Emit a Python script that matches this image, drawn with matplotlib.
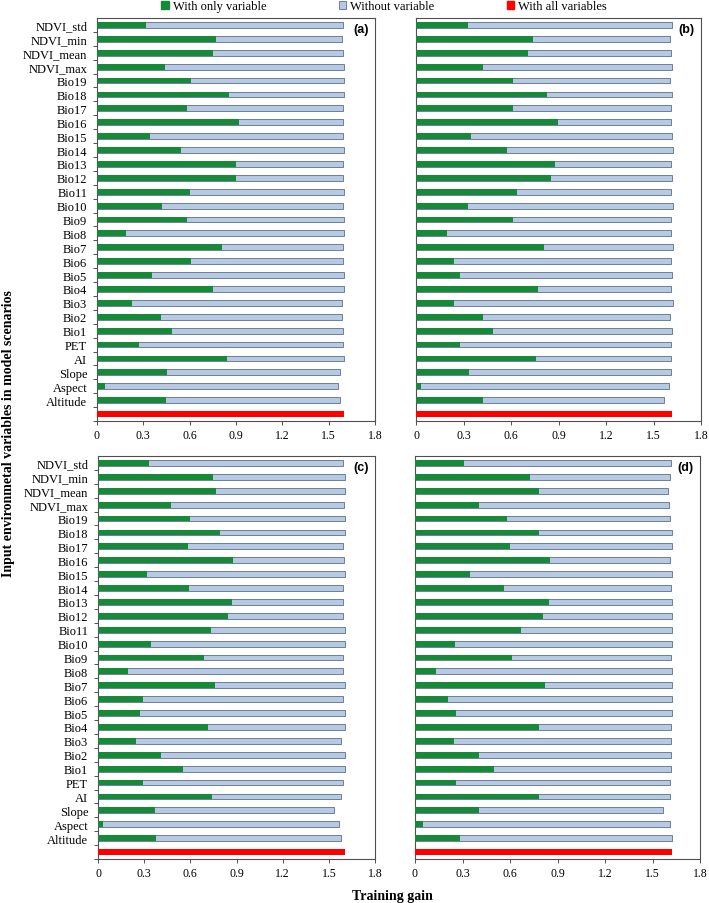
import numpy as np
import matplotlib
matplotlib.use("Agg")
import matplotlib.pyplot as plt
from matplotlib.patches import Patch

# variable names, top to bottom
variables = ["NDVI_std", "NDVI_min", "NDVI_mean", "NDVI_max", "Bio19", "Bio18", "Bio17",
             "Bio16", "Bio15", "Bio14", "Bio13", "Bio12", "Bio11", "Bio10", "Bio9", "Bio8",
             "Bio7", "Bio6", "Bio5", "Bio4", "Bio3", "Bio2", "Bio1", "PET", "AI", "Slope",
             "Aspect", "Altitude"]

# training gain with only the variable (green)
only_a = [0.32, 0.77, 0.75, 0.44, 0.61, 0.855, 0.58, 0.92, 0.34, 0.545, 0.90, 0.90, 0.60, 0.42,
          0.585, 0.185, 0.81, 0.61, 0.355, 0.75, 0.225, 0.415, 0.485, 0.275, 0.84, 0.45, 0.05, 0.445]
only_b = [0.33, 0.74, 0.71, 0.42, 0.615, 0.83, 0.61, 0.895, 0.345, 0.575, 0.875, 0.85, 0.64, 0.33,
          0.61, 0.195, 0.81, 0.24, 0.28, 0.77, 0.24, 0.42, 0.485, 0.275, 0.76, 0.335, 0.03, 0.425]
only_c = [0.33, 0.75, 0.765, 0.475, 0.595, 0.79, 0.585, 0.88, 0.32, 0.59, 0.87, 0.845, 0.735, 0.345,
          0.69, 0.195, 0.76, 0.29, 0.275, 0.715, 0.25, 0.41, 0.555, 0.29, 0.74, 0.37, 0.03, 0.375]
only_d = [0.31, 0.725, 0.785, 0.405, 0.58, 0.785, 0.60, 0.855, 0.345, 0.565, 0.845, 0.81, 0.67, 0.25,
          0.61, 0.135, 0.82, 0.21, 0.26, 0.78, 0.245, 0.405, 0.50, 0.26, 0.785, 0.405, 0.05, 0.285]

# training gain without the variable (light blue)
without_a = [1.594, 1.588, 1.594, 1.598, 1.598, 1.598, 1.594, 1.594, 1.594, 1.598, 1.594, 1.594, 1.598, 1.590,
             1.598, 1.598, 1.594, 1.594, 1.598, 1.598, 1.588, 1.588, 1.594, 1.594, 1.598, 1.571, 1.558, 1.571]
without_b = [1.617, 1.602, 1.613, 1.617, 1.602, 1.617, 1.613, 1.608, 1.617, 1.621, 1.608, 1.617, 1.611, 1.621,
             1.613, 1.613, 1.621, 1.613, 1.617, 1.608, 1.621, 1.606, 1.615, 1.611, 1.613, 1.613, 1.596, 1.564]
without_c = [1.589, 1.602, 1.602, 1.599, 1.602, 1.602, 1.595, 1.599, 1.602, 1.595, 1.595, 1.595, 1.602, 1.602,
             1.591, 1.595, 1.604, 1.595, 1.602, 1.602, 1.576, 1.604, 1.604, 1.589, 1.582, 1.535, 1.567, 1.578]
without_d = [1.619, 1.608, 1.596, 1.602, 1.613, 1.623, 1.623, 1.610, 1.623, 1.619, 1.623, 1.623, 1.623, 1.623,
             1.619, 1.623, 1.623, 1.623, 1.623, 1.619, 1.619, 1.619, 1.615, 1.610, 1.610, 1.564, 1.610, 1.623]

# training gain with all variables (red)
all_vars = [1.598, 1.617, 1.602, 1.623]

panel_tags = ["(a)", "(b)", "(c)", "(d)"]
only_sets = [only_a, only_b, only_c, only_d]
without_sets = [without_a, without_b, without_c, without_d]

green = "#178a3a"
blue_fill = "#b7cae4"
blue_edge = "#6e7e98"
red = "#ff0000"
frame = "#505050"

plt.rcParams["font.family"] = ["Liberation Serif", "DejaVu Serif"]

W, H = 709, 904
fig = plt.figure(figsize=(W / 100, H / 100), dpi=100)

# panel boxes in pixels: left, top, right, bottom
boxes = [(97, 19, 375, 422), (416, 19, 701, 422),
         (98, 457, 375, 860), (415, 457, 700, 860)]

n = len(variables)
ypos = np.arange(n, 0, -1)  # NDVI_std on top, red bar at 0

for i, (l, t, r, b) in enumerate(boxes):
    ax = fig.add_axes([l / W, (H - b) / H, (r - l) / W, (b - t) / H])
    ax.barh(ypos, without_sets[i], height=0.42, color=blue_fill, edgecolor=blue_edge, linewidth=0.7, zorder=2)
    ax.barh(ypos, only_sets[i], height=0.42, color=green, linewidth=0, zorder=3)
    ax.barh([0], [all_vars[i]], height=0.42, color=red, linewidth=0, zorder=3)

    ax.set_xlim(0, 1.8)
    ax.set_ylim(-0.5, n + 0.5)
    ax.set_xticks(np.arange(0, 1.81, 0.3))
    ax.set_xticklabels(["0", "0.3", "0.6", "0.9", "1.2", "1.5", "1.8"], fontsize=8.5)
    ax.tick_params(axis="x", direction="out", length=3, width=0.7, color=frame, pad=3)

    ax.set_yticks(ypos)
    if i % 2 == 0:
        ax.set_yticklabels(variables, fontsize=9)
        ax.set_yticks(np.arange(-0.5, n + 0.5, 1.0), minor=True)
        ax.tick_params(axis="y", which="minor", direction="out", length=3, width=0.7, color=frame)
    else:
        ax.set_yticklabels([])
    ax.tick_params(axis="y", which="major", length=0, pad=7)

    for sp in ax.spines.values():
        sp.set_color(frame)
        sp.set_linewidth(0.8)

    ax.text(0.95, 0.972, panel_tags[i], transform=ax.transAxes, ha="center", va="center",
            fontsize=9, fontweight="bold", family=["Liberation Sans", "DejaVu Sans"])

handles = [Patch(facecolor=green, edgecolor=green),
           Patch(facecolor=blue_fill, edgecolor=blue_edge, linewidth=0.7),
           Patch(facecolor=red, edgecolor=red)]
fig.legend(handles, ["With only variable", "Without variable", "With all variables"],
           loc="center", bbox_to_anchor=(384 / W, 1 - 7 / H), ncol=3, frameon=False,
           fontsize=9, handlelength=0.6, handleheight=0.6, handletextpad=0.3,
           columnspacing=5.8, borderpad=0)

fig.text(0.012, 1 - 434 / H, "Input environmetal variables in model scenarios", rotation=90,
         ha="center", va="center", fontsize=10, fontweight="bold")
fig.text(392 / W, 1 - 897 / H, "Training gain", ha="center", va="center", fontsize=10, fontweight="bold")

fig.savefig("out.png", dpi=100)
